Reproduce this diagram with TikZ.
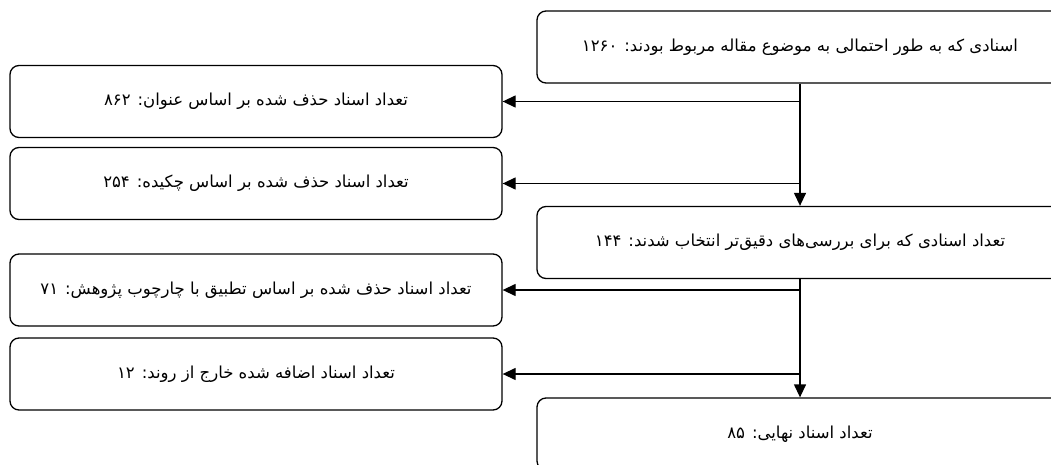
\documentclass[tikz,border=0pt]{standalone}
\usepackage{fontspec}
\newfontfamily\arabicfont[Script=Arabic]{DejaVu Sans}
\TeXXeTstate=1
\usetikzlibrary{arrows.meta,positioning}

\begin{document}
\begin{tikzpicture}[x=1pt,y=-1pt,
    box/.style={draw, line width=1.3pt, rounded corners=9pt, inner sep=0pt,
                minimum height=72pt, font=\arabicfont\fontsize{16.5}{19}\selectfont},
    leftbox/.style={box, minimum width=492pt},
    rightbox/.style={box, minimum width=526pt},
    arr/.style={line width=1.3pt, -{Triangle[length=13pt,width=12pt]}}]
  \useasboundingbox (0,0) rectangle (1051,465);

  \node[rightbox] at (800,47) (all) {\beginR اسنادی که به طور احتمالی به موضوع مقاله مربوط بودند: ۱۲۶۰\endR};
  \node[leftbox] at (256,101.5) (title) {\beginR تعداد اسناد حذف شده بر اساس عنوان: ۸۶۲\endR};
  \node[leftbox] at (256,183.5) (abstract) {\beginR تعداد اسناد حذف شده بر اساس چکیده: ۲۵۴\endR};
  \node[rightbox] at (800,242.5) (sel) {\beginR تعداد اسنادی که برای بررسی‌های دقیق‌تر انتخاب شدند: ۱۴۴\endR};
  \node[leftbox] at (256,290) (frame) {\beginR تعداد اسناد حذف شده بر اساس تطبیق با چارچوب پژوهش: ۷۱\endR};
  \node[leftbox] at (256,374) (added) {\beginR تعداد اسناد اضافه شده خارج از روند: ۱۲\endR};
  \node[rightbox] at (800,434) (final) {\beginR تعداد اسناد نهایی: ۸۵\endR};

  \draw[arr] (all.south) -- (sel.north);
  \draw[arr] (all.south |- title.east) -- (title.east);
  \draw[arr] (all.south |- abstract.east) -- (abstract.east);
  \draw[arr] (sel.south) -- (final.north);
  \draw[arr] (sel.south |- frame.east) -- (frame.east);
  \draw[arr] (sel.south |- added.east) -- (added.east);
\end{tikzpicture}
\end{document}
